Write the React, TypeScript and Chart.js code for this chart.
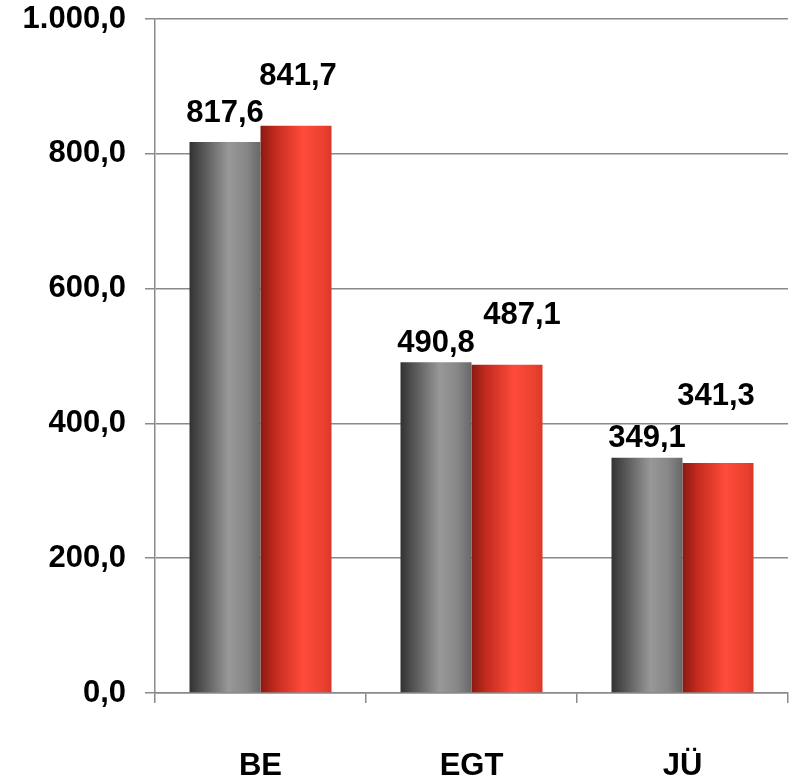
import React, { useEffect, useRef } from "react";
import { Chart, registerables } from "chart.js";

Chart.register(...registerables);

// ---- data ----
const categories = ["BE", "EGT", "JÜ"];
const seriesGrey = [817.6, 490.8, 349.1];
const seriesRed = [841.7, 487.1, 341.3];
const yMin = 0;
const yMax = 1000;
const yStep = 200;

// ---- label placement (style) ----
const greyLabelOffsets = [
  { dx: 0, dy: 20 },
  { dx: 0, dy: 10 },
  { dx: 0, dy: 11 },
];
const redLabelOffsets = [
  { dx: 2, dy: 41 },
  { dx: 15, dy: 41 },
  { dx: -2, dy: 58 },
];

const greyStops: [number, string][] = [
  [0, "#323232"],
  [0.15, "#4e4e4e"],
  [0.55, "#989898"],
  [0.8, "#878787"],
  [1, "#686868"],
];
const redStops: [number, string][] = [
  [0, "#8a1a12"],
  [0.2, "#c22a1d"],
  [0.6, "#ff4b3b"],
  [0.9, "#ea402f"],
  [1, "#d8382a"],
];

const FONT_FAMILY = '"Liberation Sans", Arial, sans-serif';
const FONT_SIZE = 31;
const GRID_COLOR = "#8a8a8a";

function fmt(v: number): string {
  const [i, d] = v.toFixed(1).split(".");
  return i.replace(/\B(?=(\d{3})+(?!\d))/g, ".") + "," + d;
}

const gradientPlugin = {
  id: "barGradient",
  beforeDatasetsDraw(chart: any) {
    const ctx = chart.ctx;
    chart.data.datasets.forEach((_ds: any, di: number) => {
      const meta = chart.getDatasetMeta(di);
      const stops = di === 0 ? greyStops : redStops;
      meta.data.forEach((bar: any) => {
        const x = bar.x;
        const w = bar.width;
        const g = ctx.createLinearGradient(x - w / 2, 0, x + w / 2, 0);
        stops.forEach(([o, c]) => g.addColorStop(o, c));
        bar.options.backgroundColor = g;
      });
    });
  },
};

const labelPlugin = {
  id: "valueLabels",
  afterDatasetsDraw(chart: any) {
    const ctx = chart.ctx;
    ctx.save();
    ctx.font = `bold ${FONT_SIZE}px ${FONT_FAMILY}`;
    ctx.fillStyle = "#000";
    ctx.textAlign = "center";
    ctx.textBaseline = "alphabetic";
    chart.data.datasets.forEach((ds: any, di: number) => {
      const meta = chart.getDatasetMeta(di);
      const offs = di === 0 ? greyLabelOffsets : redLabelOffsets;
      meta.data.forEach((bar: any, i: number) => {
        const o = offs[i];
        ctx.fillText(fmt(ds.data[i]), bar.x + o.dx, bar.y - o.dy);
      });
    });
    ctx.restore();
  },
};

export default function App() {
  const ref = useRef<HTMLCanvasElement | null>(null);

  useEffect(() => {
    if (!ref.current) return;
    const chart = new Chart(ref.current, {
      type: "bar",
      data: {
        labels: categories,
        datasets: [
          {
            label: "A",
            data: seriesGrey,
            backgroundColor: () => "#808080",
            borderWidth: 0,
            categoryPercentage: 0.673,
            barPercentage: 1,
          },
          {
            label: "B",
            data: seriesRed,
            backgroundColor: () => "#ff4b3b",
            borderWidth: 0,
            categoryPercentage: 0.673,
            barPercentage: 1,
          },
        ],
      },
      options: {
        responsive: false,
        animation: false,
        devicePixelRatio: 1,
        layout: { padding: { left: 0, right: 4, top: 19, bottom: 0 } },
        plugins: {
          legend: { display: false },
          tooltip: { enabled: false },
        },
        scales: {
          x: {
            grid: {
              display: true,
              drawOnChartArea: false,
              offset: true,
              color: GRID_COLOR,
              lineWidth: 1.5,
              tickLength: 10,
            },
            border: { display: true, color: GRID_COLOR, width: 1.5 },
            ticks: {
              color: "#000",
              font: { family: FONT_FAMILY, size: FONT_SIZE, weight: "bold" },
              padding: 45,
              maxRotation: 0,
            },
            afterFit(scale: any) {
              scale.height = 87;
              scale.paddingLeft = 0;
              scale.paddingRight = 0;
            },
          },
          y: {
            min: yMin,
            max: yMax,
            grid: {
              color: GRID_COLOR,
              lineWidth: 1.5,
              tickLength: 10,
            },
            border: { display: true, color: GRID_COLOR, width: 1.5 },
            ticks: {
              stepSize: yStep,
              color: "#000",
              font: { family: FONT_FAMILY, size: FONT_SIZE, weight: "bold" },
              padding: 19,
              callback: (v: any) => fmt(Number(v)),
            },
            afterFit(scale: any) {
              scale.width = 155;
              scale.paddingTop = 0;
              scale.paddingBottom = 0;
            },
          },
        },
      },
      plugins: [gradientPlugin, labelPlugin],
    });
    return () => chart.destroy();
  }, []);

  return (
    <div style={{ position: "absolute", left: 0, top: 0, width: 792, height: 780, background: "#fff" }}>
      <canvas ref={ref} width={792} height={780} style={{ display: "block" }} />
    </div>
  );
}
